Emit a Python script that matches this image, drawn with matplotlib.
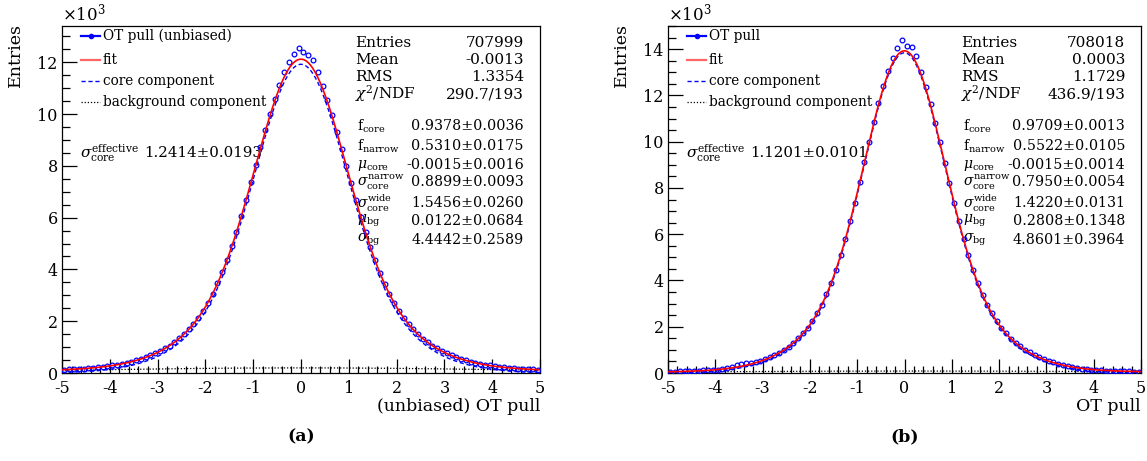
import numpy as np
import matplotlib
matplotlib.use("Agg")
import matplotlib.pyplot as plt
from matplotlib.ticker import MultipleLocator
from matplotlib.lines import Line2D

plt.rcParams['font.family'] = ['DejaVu Serif']
plt.rcParams['mathtext.fontset'] = 'dejavuserif'

# ---------------- data ----------------
x_lo, x_hi = -5.0, 5.0
n_bins = 200                       # histogram binning used for the fit
marker_x = np.arange(-4.95, 4.96, 0.1)   # positions where data were read

# read values (x10^3 entries)
counts_a = [0.13, 0.14, 0.15, 0.16, 0.17, 0.19, 0.20, 0.22, 0.24, 0.27,
            0.29, 0.32, 0.36, 0.40, 0.44, 0.49, 0.55, 0.61, 0.68, 0.76,
            0.85, 0.95, 1.06, 1.19, 1.34, 1.51, 1.69, 1.90, 2.14, 2.41,
            2.72, 3.07, 3.46, 3.89, 4.37, 4.89, 5.46, 6.07, 6.70, 7.36,
            8.04, 8.72, 9.38, 10.02, 10.60, 11.12, 11.62, 12.02, 12.30, 12.55,
            12.38, 12.28, 12.10, 11.62, 11.08, 10.55, 9.95, 9.32, 8.66, 8.00,
            7.33, 6.67, 6.04, 5.44, 4.88, 4.35, 3.87, 3.44, 3.06, 2.71,
            2.40, 2.13, 1.89, 1.68, 1.50, 1.33, 1.19, 1.06, 0.95, 0.85,
            0.76, 0.68, 0.61, 0.54, 0.49, 0.44, 0.40, 0.36, 0.32, 0.29,
            0.26, 0.24, 0.22, 0.20, 0.19, 0.17, 0.16, 0.15, 0.14, 0.13]

counts_b = [0.06, 0.06, 0.07, 0.07, 0.08, 0.09, 0.10, 0.11, 0.12, 0.13,
            0.15, 0.17, 0.20, 0.27, 0.33, 0.39, 0.43, 0.45, 0.48, 0.53,
            0.60, 0.68, 0.77, 0.88, 1.00, 1.14, 1.31, 1.50, 1.71, 1.96,
            2.25, 2.58, 2.96, 3.40, 3.90, 4.47, 5.10, 5.80, 6.56, 7.37,
            8.24, 9.12, 10.00, 10.86, 11.66, 12.40, 13.05, 13.62, 14.05, 14.38,
            14.15, 14.10, 13.70, 13.02, 12.35, 11.62, 10.82, 9.97, 9.09, 8.22,
            7.36, 6.55, 5.79, 5.09, 4.46, 3.89, 3.39, 2.96, 2.58, 2.25,
            1.96, 1.71, 1.49, 1.31, 1.15, 1.01, 0.89, 0.79, 0.70, 0.61,
            0.53, 0.46, 0.40, 0.35, 0.30, 0.26, 0.22, 0.19, 0.17, 0.15,
            0.13, 0.12, 0.10, 0.09, 0.08, 0.08, 0.07, 0.07, 0.06, 0.06]

# statistics box
entries = [707999, 708018]
means = [-0.0013, 0.0003]
rmss = [1.3354, 1.1729]
chi2 = [290.7, 436.9]
ndf = [193, 193]

# fit parameters: f_core, f_narrow, mu_core, sigma_narrow, sigma_wide, mu_bg, sigma_bg
par_vals = [[0.9378, 0.5310, -0.0015, 0.8899, 1.5456, 0.0122, 4.4442],
            [0.9709, 0.5522, -0.0015, 0.7950, 1.4220, 0.2808, 4.8601]]
par_errs = [[0.0036, 0.0175, 0.0016, 0.0093, 0.0260, 0.0684, 0.2589],
            [0.0013, 0.0105, 0.0014, 0.0054, 0.0131, 0.1348, 0.3964]]
sig_eff = [1.2414, 1.1201]
sig_eff_err = [0.0193, 0.0101]

par_labels = [r'f$_{\rm core}$', r'f$_{\rm narrow}$', r'$\mu_{\rm core}$',
              r'$\sigma_{\rm core}^{\rm narrow}$', r'$\sigma_{\rm core}^{\rm wide}$',
              r'$\mu_{\rm bg}$', r'$\sigma_{\rm bg}$']
legend_first = ['OT pull (unbiased)', 'OT pull']
xlabels = ['(unbiased) OT pull', 'OT pull']
panel_tags = ['(a)', '(b)']
ymax = [13.4, 15.0]
counts = [counts_a, counts_b]


def gauss(x, mu, s):
    return np.exp(-0.5 * ((x - mu) / s) ** 2) / (s * np.sqrt(2 * np.pi))


def model(x, p, n):
    fc, fn, mu, sn, sw, mub, sb = p
    bw = (x_hi - x_lo) / n_bins
    A = n * bw / 1000.0
    core = A * fc * (fn * gauss(x, mu, sn) + (1 - fn) * gauss(x, mu, sw))
    bg = A * (1 - fc) * gauss(x, mub, sb)
    return core + bg, core, bg


W, H = 1147, 461
fig = plt.figure(figsize=(W / 100, H / 100), dpi=100)

axes_px = [(62, 540), (668, 1141)]
top_px, bot_px = 26, 373

for i in range(2):
    l, r = axes_px[i]
    ax = fig.add_axes([l / W, (H - bot_px) / H, (r - l) / W, (bot_px - top_px) / H])
    xf = np.linspace(x_lo, x_hi, 1001)
    tot, core, bg = model(xf, par_vals[i], entries[i])

    ax.plot(xf, bg, color='black', ls=(0, (1, 1.5)), lw=0.9, zorder=2)
    ax.plot(xf, core, color='#0000ff', ls=(0, (3, 2)), lw=1.0, zorder=3)
    ax.plot(marker_x, counts[i], ls='none', marker='o', ms=3.4, mfc='none',
            mec='#0000ff', mew=0.9, zorder=4)
    ax.plot(xf, tot, color='#ff0000', lw=1.2, zorder=5)

    ax.set_xlim(x_lo, x_hi)
    ax.set_ylim(0, ymax[i])
    ax.xaxis.set_major_locator(MultipleLocator(1))
    ax.xaxis.set_minor_locator(MultipleLocator(0.2))
    ax.yaxis.set_major_locator(MultipleLocator(2))
    ax.yaxis.set_minor_locator(MultipleLocator(0.5))
    ax.tick_params(which='both', direction='in', top=False, right=False,
                   labelsize=11.5, width=0.9)
    ax.tick_params(axis='y', which='major', length=11, pad=3)
    ax.tick_params(axis='y', which='minor', length=5.5)
    ax.tick_params(axis='x', which='major', length=10, pad=5)
    ax.tick_params(axis='x', which='minor', length=5)
    ax.xaxis.set_major_formatter(plt.FuncFormatter(lambda v, p: f'{v:g}'))
    ax.yaxis.set_major_formatter(plt.FuncFormatter(lambda v, p: f'{v:g}'))
    for s in ax.spines.values():
        s.set_linewidth(0.9)

    wpx = r - l
    hpx = bot_px - top_px

    def ax_x(px):
        return (px - l) / wpx

    def ax_y(py):
        return (bot_px - py) / hpx

    # axis titles
    ax.text(ax_x(l - 47), ax_y(23), 'Entries', rotation=90, ha='center', va='top',
            fontsize=12.5, transform=ax.transAxes)
    ax.text(1.0, ax_y(398), xlabels[i], ha='right', va='top', fontsize=12.5,
            transform=ax.transAxes)
    ax.text(0.0, 1.006, r'$\times$10$^{3}$', ha='left', va='bottom', fontsize=12,
            transform=ax.transAxes)
    ax.text(0.5, ax_y(437), panel_tags[i], ha='center', va='center', fontsize=12.5,
            fontweight='bold', transform=ax.transAxes)

    # legend
    ly = [36, 60, 81, 102]
    x0, x1, xt = ax_x(l + 19), ax_x(l + 38), ax_x(l + 41)
    styles = [dict(color='#0000ff', lw=1.6, marker='o', ms=3, markevery=[1]),
              dict(color='#ff0000', lw=1.6, alpha=0.6),
              dict(color='#0000ff', lw=1.0, ls=(0, (3, 2))),
              dict(color='black', lw=0.9, ls=(0, (1, 1.5)))]
    labels = [legend_first[i], 'fit', 'core component', 'background component']
    for yy, st, lab in zip(ly, styles, labels):
        yv = ax_y(yy)
        ax.add_line(Line2D([x0, (x0 + x1) / 2, x1], [yv, yv, yv],
                           transform=ax.transAxes, **st))
        ax.text(xt, yv, lab, ha='left', va='center', fontsize=9.8,
                transform=ax.transAxes)

    # sigma effective
    ax.text(ax_x(l + 18), ax_y(153), r'$\sigma_{\rm core}^{\rm effective}$',
            ha='left', va='center', fontsize=11, transform=ax.transAxes)
    ax.text(ax_x(l + 82), ax_y(153), f'{sig_eff[i]:.4f}±{sig_eff_err[i]:.4f}',
            ha='left', va='center', fontsize=10.8, transform=ax.transAxes)

    # stats box
    sx = ax_x(l + 293)
    vx = ax_x(r - 16)
    rows = [('Entries', f'{entries[i]:d}'), ('Mean', f'{means[i]:.4f}'),
            ('RMS', f'{rmss[i]:.4f}'), (r'$\chi^{2}$/NDF', f'{chi2[i]:.1f}/{ndf[i]:d}')]
    ry = [43, 60, 77, 94]
    for (lab, val), yy in zip(rows, ry):
        ax.text(sx, ax_y(yy), lab, ha='left', va='center', fontsize=11,
                transform=ax.transAxes)
        ax.text(vx, ax_y(yy), val, ha='right', va='center', fontsize=11,
                transform=ax.transAxes)
    py = [126, 146, 165, 182, 203, 221, 240]
    for lab, v, e, yy in zip(par_labels, par_vals[i], par_errs[i], py):
        ax.text(sx + 0.005, ax_y(yy), lab, ha='left', va='center', fontsize=10.0,
                transform=ax.transAxes)
        ax.text(vx, ax_y(yy), f'{v:.4f}±{e:.4f}', ha='right', va='center',
                fontsize=10.3, transform=ax.transAxes)

fig.savefig('out.png', dpi=100)
